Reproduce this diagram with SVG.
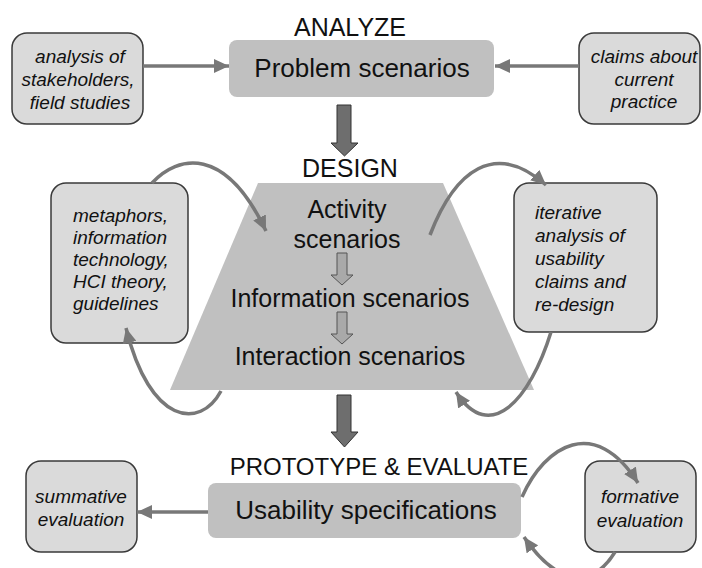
<svg xmlns="http://www.w3.org/2000/svg" width="702" height="568" viewBox="0 0 702 568">
<style>
.title{font-family:"Liberation Sans",Arial,sans-serif;font-size:25px;fill:#111;text-anchor:middle}
.main{fill:#c0c0c0}
.mtxt{font-family:"Liberation Sans",Arial,sans-serif;font-size:26px;fill:#111;text-anchor:middle}
.side{fill:#dadada;stroke:#3a3a3a;stroke-width:1.5}
.stxt{font-family:"Liberation Sans",Arial,sans-serif;font-size:19px;font-style:italic;fill:#111}
.conn{fill:none;stroke:#787878;stroke-width:3.5}
.block{fill:#6e6e6e;stroke:#333;stroke-width:1}
.small{fill:#a9a9a9;stroke:#555;stroke-width:1}
</style>
<defs>
<marker id="ah" markerUnits="userSpaceOnUse" markerWidth="16" markerHeight="14" refX="15" refY="7" orient="auto">
<path d="M0,0 L15,7 L0,14 Z" fill="#787878"/>
</marker>
</defs>
<rect width="702" height="568" fill="#ffffff"/>

<text class="title" x="350" y="36">ANALYZE</text>
<text class="title" x="350" y="177">DESIGN</text>
<text class="title" x="379" y="475" style="font-size:24px">PROTOTYPE &amp; EVALUATE</text>

<g id="problem">
<rect class="main" x="229" y="40" width="265" height="57" rx="8"/>
<text class="mtxt" x="362" y="77">Problem scenarios</text>
</g>

<g id="stakeholders">
<rect class="side" x="12" y="33" width="131" height="91" rx="15"/>
<text class="stxt" text-anchor="middle"><tspan x="80" y="63">analysis of</tspan><tspan x="78" y="86">stakeholders,</tspan><tspan x="80" y="109">field studies</tspan></text>
</g>

<g id="claims">
<rect class="side" x="579" y="33" width="121" height="91" rx="15"/>
<text class="stxt" text-anchor="middle"><tspan x="644" y="63">claims about</tspan><tspan x="644" y="86">current</tspan><tspan x="644" y="108">practice</tspan></text>
</g>

<g id="design">
<polygon class="main" points="258,183 443,183 534,390 170,390"/>
<text class="mtxt" style="font-size:25px"><tspan x="347" y="218">Activity</tspan><tspan x="347" y="248">scenarios</tspan><tspan x="350" y="307">Information scenarios</tspan><tspan x="350" y="365">Interaction scenarios</tspan></text>
<polygon class="small" points="337,253 347,253 347,275 353,275 342,285 331,275 337,275"/>
<polygon class="small" points="337,312 347,312 347,334 353,334 342,344 331,334 337,334"/>
</g>

<g id="metaphors">
<rect class="side" x="51" y="183" width="137" height="160" rx="15"/>
<text class="stxt"><tspan x="73" y="222">metaphors,</tspan><tspan x="73" y="244">information</tspan><tspan x="73" y="266">technology,</tspan><tspan x="73" y="288">HCI theory,</tspan><tspan x="73" y="310">guidelines</tspan></text>
</g>

<g id="iterative">
<rect class="side" x="514" y="183" width="143" height="149" rx="15"/>
<text class="stxt"><tspan x="535" y="219">iterative</tspan><tspan x="535" y="242">analysis of</tspan><tspan x="535" y="265">usability</tspan><tspan x="535" y="288">claims and</tspan><tspan x="535" y="311">re-design</tspan></text>
</g>

<g id="usability">
<rect class="main" x="208" y="483" width="313" height="55" rx="8"/>
<text class="mtxt" x="366" y="519">Usability specifications</text>
</g>

<g id="summative">
<rect class="side" x="26" y="461" width="111" height="91" rx="15"/>
<text class="stxt" text-anchor="middle"><tspan x="81" y="503">summative</tspan><tspan x="81" y="526">evaluation</tspan></text>
</g>

<g id="formative">
<rect class="side" x="585" y="461" width="111" height="91" rx="15"/>
<text class="stxt" text-anchor="middle"><tspan x="640" y="503">formative</tspan><tspan x="640" y="527">evaluation</tspan></text>
</g>

<g id="connectors">
<polygon class="block" points="337,105 351,105 351,143 358,143 344.5,156 331,143 337,143"/>
<polygon class="block" points="337,395 351,395 351,432 358,432 344.5,447 331,432 337,432"/>
<path class="conn" d="M143,66 L229,66" marker-end="url(#ah)"/>
<path class="conn" d="M579,66 L495,66" marker-end="url(#ah)"/>
<path class="conn" d="M208,512 L137,512" marker-end="url(#ah)"/>
<path class="conn" d="M152,183 C178,155 225,145 266,231" marker-end="url(#ah)"/>
<path class="conn" d="M221,391 C200,430 150,425 126,328" marker-end="url(#ah)"/>
<path class="conn" d="M430,235 C455,170 495,140 546,185" marker-end="url(#ah)"/>
<path class="conn" d="M551,332 C530,400 490,445 456,392" marker-end="url(#ah)"/>
<path class="conn" d="M522,497 C545,445 595,415 638,483" marker-end="url(#ah)"/>
<path class="conn" d="M615,552 C595,585 560,590 524,537" marker-end="url(#ah)"/>
</g>
</svg>
